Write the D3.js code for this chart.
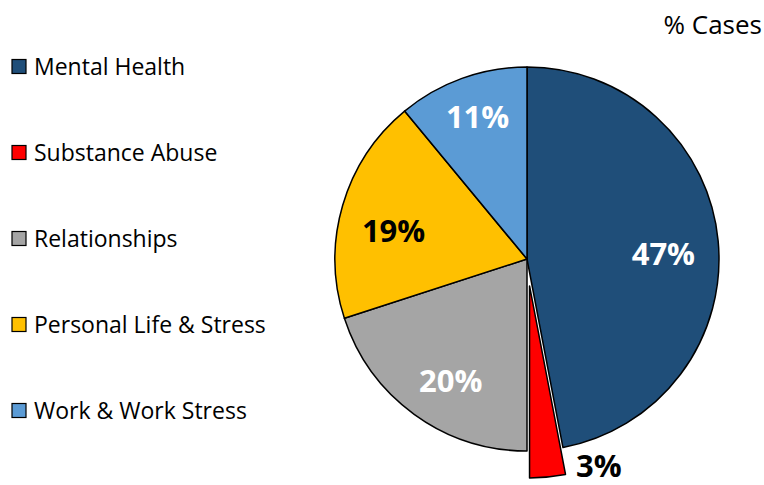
<!DOCTYPE html>
<html>
  <head>
    <script src="https://d3js.org/d3.v7.min.js"></script>
    <meta charset="utf-8">
    <title>% Cases</title>
    <style>
      body { margin: 0; background: #fff; }
      text { font-family: "Open Sans", Lato, sans-serif; }
    </style>
  </head>
  <body>
    <script>
      // data
      const categories = ["Mental Health", "Substance Abuse", "Relationships", "Personal Life & Stress", "Work & Work Stress"];
      const percents = [47, 3, 20, 19, 11];
      const colors = ["#1F4E79", "#FF0000", "#A5A5A5", "#FFC000", "#5B9BD5"];
      const labelColors = ["#fff", "#000", "#fff", "#000", "#fff"];

      const width = 764, height = 485;
      const cx = 527, cy = 259, radius = 192;

      const svg = d3.select("body")
        .append("svg")
        .attr("width", width)
        .attr("height", height);

      // title top right
      svg.append("text")
        .attr("x", 762)
        .attr("y", 34)
        .attr("text-anchor", "end")
        .attr("font-size", "26px")
        .attr("fill", "#000")
        .text("% Cases");

      const pie = d3.pie().sort(null).value(d => d.value);
      const data = categories.map((c, i) => ({ name: c, value: percents[i], i: i }));
      const arcs = pie(data);

      const arc = d3.arc().innerRadius(0).outerRadius(radius);
      const explode = 27; // substance abuse slice pulled out

      const g = svg.append("g").attr("transform", `translate(${cx},${cy})`);

      g.selectAll("path")
        .data(arcs)
        .enter()
        .append("path")
        .attr("d", arc)
        .attr("fill", d => colors[d.data.i])
        .attr("stroke", "#000")
        .attr("stroke-width", 1.5)
        .attr("stroke-linejoin", "round")
        .attr("transform", d => {
          if (d.data.i !== 1) return null;
          const a = (d.startAngle + d.endAngle) / 2;
          return `translate(${Math.sin(a) * explode},${-Math.cos(a) * explode})`;
        });

      // value labels, small nudges to sit like the excel ones
      const labelR = 140;
      const nudge = [[-3, 8], [0, 0], [6, 9], [1, 11], [-2, -10]];
      function labelPos(d) {
        const a = (d.startAngle + d.endAngle) / 2;
        if (d.data.i === 1) {
          // outside label, lower right of the pulled slice
          return [Math.sin(a - 0.237) * 221, -Math.cos(a - 0.237) * 221 - 2];
        }
        const n = nudge[d.data.i];
        return [Math.sin(a) * labelR + n[0], -Math.cos(a) * labelR + n[1]];
      }

      g.selectAll("text.val")
        .data(arcs)
        .enter()
        .append("text")
        .attr("class", "val")
        .attr("x", d => labelPos(d)[0])
        .attr("y", d => labelPos(d)[1])
        .attr("dy", "0.36em")
        .attr("text-anchor", "middle")
        .attr("font-size", "31px")
        .attr("font-weight", "bold")
        .attr("fill", d => labelColors[d.data.i])
        .text(d => d.data.value + "%");

      // legend
      const legend = svg.append("g");
      const rowY = d3.scalePoint().domain(categories).range([67, 411]);

      legend.selectAll("rect")
        .data(categories)
        .enter()
        .append("rect")
        .attr("x", 12)
        .attr("y", d => rowY(d) - 7.5)
        .attr("width", 14)
        .attr("height", 14)
        .attr("fill", (d, i) => colors[i])
        .attr("stroke", "#000")
        .attr("stroke-width", 1.2);

      legend.selectAll("text")
        .data(categories)
        .enter()
        .append("text")
        .attr("x", 34)
        .attr("y", d => rowY(d))
        .attr("dy", "0.36em")
        .attr("font-size", "23px")
        .attr("fill", "#000")
        .text(d => d);
    </script>
  </body>
</html>
